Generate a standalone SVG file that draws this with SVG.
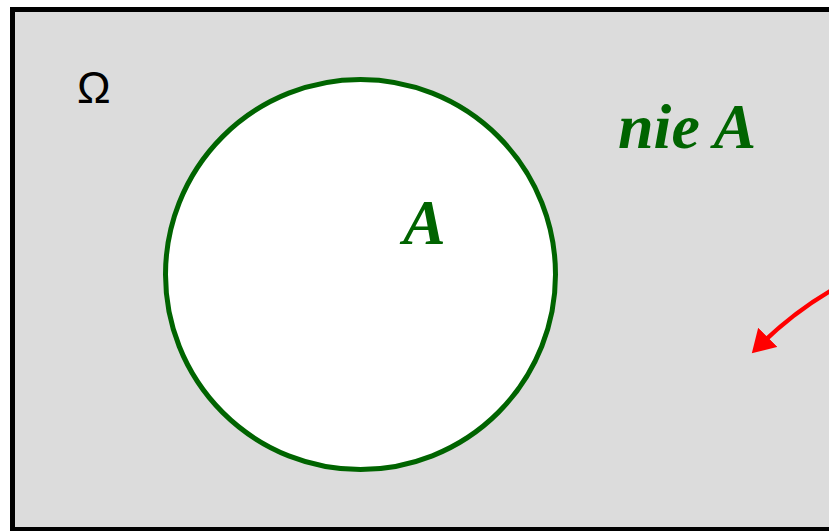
<svg xmlns="http://www.w3.org/2000/svg" width="829" height="531" viewBox="0 0 829 531">
<style>
.lbl{font-family:"Liberation Serif","Times New Roman",serif;font-style:italic;font-weight:bold;fill:#006400;font-size:64px}
</style>
<defs>
<marker id="ah" markerWidth="6" markerHeight="6" refX="4" refY="3" orient="auto" markerUnits="strokeWidth">
<path d="M0,0 L5,3 L0,6 z" fill="#ff0000"/>
</marker>
</defs>
<rect width="829" height="531" fill="#ffffff"/>
<g id="omega">
<rect x="12.5" y="9.5" width="830" height="520" fill="#dcdcdc" stroke="#000" stroke-width="5"/>
<text x="77" y="103" font-family="Liberation Sans, Arial, sans-serif" font-size="45" fill="#000">Ω</text>
</g>
<g id="setA">
<circle cx="360.5" cy="274.5" r="195" fill="#fff" stroke="#006400" stroke-width="5"/>
<text class="lbl" x="403" y="244">A</text>
</g>
<g id="notA">
<text class="lbl" x="618" y="148">nie A</text>
</g>
<g id="connectors">
<path d="M832,290 Q792,313 755,350" fill="none" stroke="#ff0000" stroke-width="4.5" marker-end="url(#ah)"/>
</g>
</svg>
